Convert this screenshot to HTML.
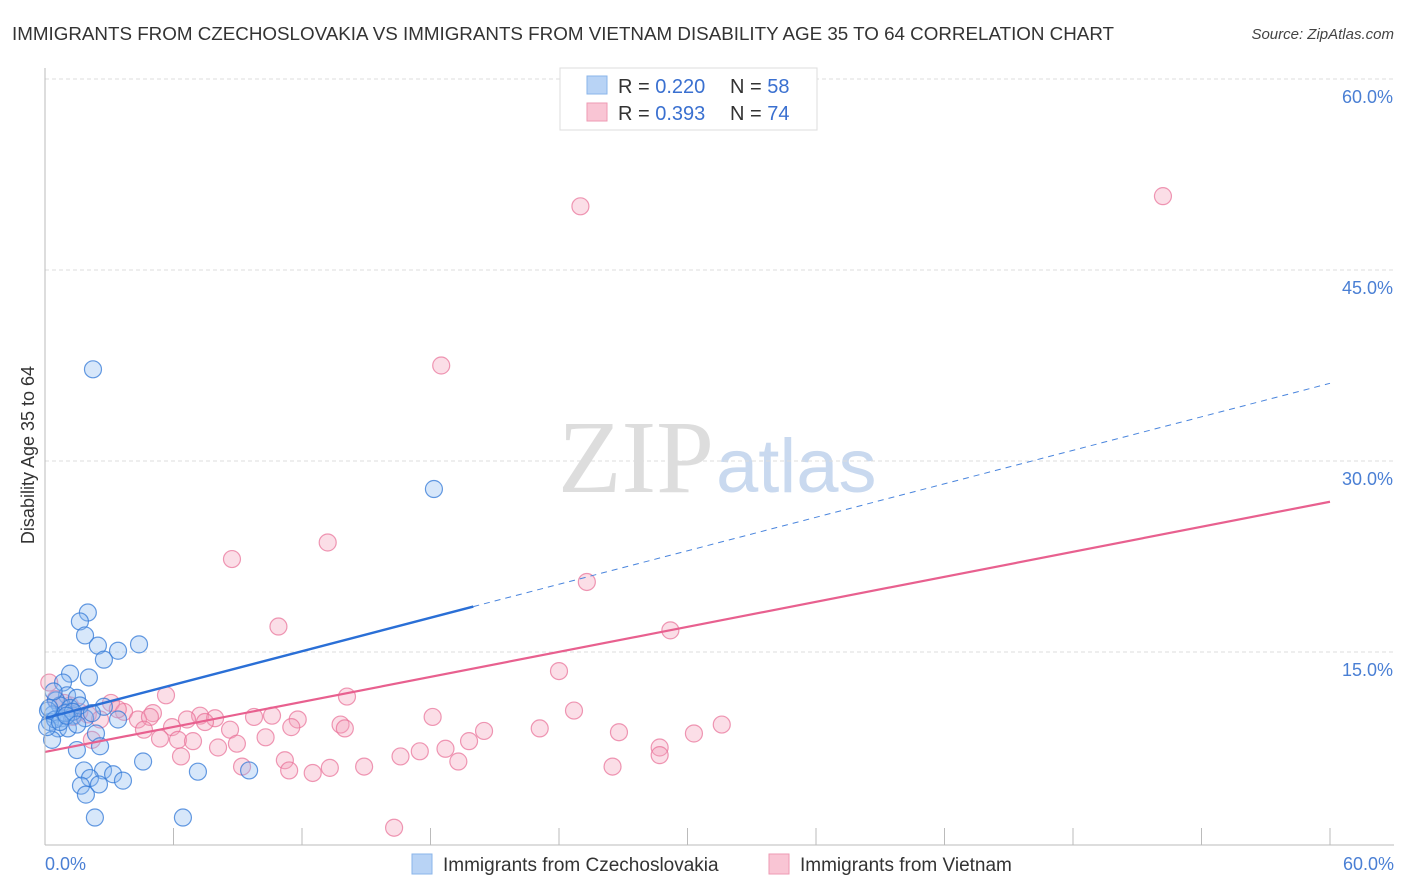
<!DOCTYPE html>
<html><head><meta charset="utf-8">
<style>
body{margin:0;background:#fff;font-family:"Liberation Sans",sans-serif;}
#wrap{position:relative;width:1406px;height:892px;overflow:hidden;}
</style></head>
<body>
<div id="wrap">
<svg id="chart" width="1406" height="892">
  <text x="12" y="40" font-size="18.8" fill="#333">IMMIGRANTS FROM CZECHOSLOVAKIA VS IMMIGRANTS FROM VIETNAM DISABILITY AGE 35 TO 64 CORRELATION CHART</text>
  <text x="1394" y="39" font-size="15" fill="#444" font-style="italic" text-anchor="end">Source: ZipAtlas.com</text>
  <text x="714" y="492" font-size="104" fill="#ddd" font-family="Liberation Serif" text-anchor="end">ZIP</text>
  <text x="716" y="492" font-size="76" fill="#c9d9ef">atlas</text>
  <text x="34" y="455" font-size="18" fill="#333" text-anchor="middle" transform="rotate(-90 34 455)">Disability Age 35 to 64</text>
  <g id="grid"></g><g id="ticks"></g><g id="pts"></g><g id="lines"></g>
  <line x1="45" y1="68" x2="45" y2="845" stroke="#bbb"/>
  <line x1="45" y1="845" x2="1394" y2="845" stroke="#bbb"/>
  <text x="45" y="870" font-size="18" fill="#4a7fd4">0.0%</text>
  <text x="1394" y="870" font-size="18" fill="#4a7fd4" text-anchor="end">60.0%</text>
  <g>
    <rect x="560" y="68" width="257" height="62" fill="#fff" stroke="#ddd"/>
    <rect x="587" y="76" width="20" height="18" fill="#b8d3f5" stroke="#8ab4ea"/>
    <rect x="587" y="103" width="20" height="18" fill="#f9c5d4" stroke="#ee9ab3"/>
    <text x="618" y="93" font-size="20" fill="#333">R = <tspan fill="#3a70d0">0.220</tspan></text>
    <text x="730" y="93" font-size="20" fill="#333">N = <tspan fill="#3a70d0">58</tspan></text>
    <text x="618" y="120" font-size="20" fill="#333">R = <tspan fill="#3a70d0">0.393</tspan></text>
    <text x="730" y="120" font-size="20" fill="#333">N = <tspan fill="#3a70d0">74</tspan></text>
  </g>
  <g>
    <rect x="412" y="854" width="20" height="20" fill="#b8d3f5" stroke="#8ab4ea"/>
    <text x="443" y="871" font-size="19" fill="#333">Immigrants from Czechoslovakia</text>
    <rect x="769" y="854" width="20" height="20" fill="#f9c5d4" stroke="#ee9ab3"/>
    <text x="800" y="871" font-size="19" fill="#333">Immigrants from Vietnam</text>
  </g>
</svg>
</div>
<script>
const yTicks=[15,30,45,60];
const yTickLabels=["15.0%","30.0%","45.0%","60.0%"];
const xTicks=[6,12,18,24,30,36,42,48,54,60];
const blueX=[2.24,18.16,2.0,1.63,1.87,4.39,2.47,3.41,2.75,1.17,2.05,0.84,1.03,1.49,0.51,0.7,1.17,2.75,0.37,0.79,1.31,1.87,3.41,0.23,0.61,1.07,2.38,0.33,2.57,1.49,4.58,1.82,2.71,3.18,7.14,9.53,2.1,3.64,2.52,1.68,1.91,2.33,6.44,0.14,0.47,0.95,1.63,2.19,0.1,0.7,1.3,0.4,0.2,1.0,1.5];
const blueY=[37.2,27.8,18.1,17.4,16.3,15.6,15.5,15.1,14.4,13.3,13.0,12.6,11.6,11.4,11.2,10.8,10.6,10.7,10.1,9.8,10.0,9.8,9.7,9.5,9.0,9.0,8.6,8.1,7.6,7.3,6.4,5.7,5.7,5.4,5.6,5.7,5.1,4.9,4.6,4.5,3.8,2.0,2.0,10.4,9.7,10.2,10.8,10.2,9.1,9.5,10.3,11.9,10.6,10.0,9.3];
const pinkX=[52.2,25.0,18.5,8.73,13.2,25.3,10.9,29.2,24.0,5.65,14.1,3.08,24.7,18.1,5.04,3.69,7.24,7.94,6.63,9.76,10.6,11.8,4.34,4.9,5.93,7.47,8.64,11.5,13.8,14.0,20.5,23.1,26.8,31.6,30.3,4.62,5.37,6.21,6.91,8.96,10.3,8.08,6.35,11.2,18.7,17.5,19.8,28.7,28.7,19.3,16.6,14.9,13.3,12.5,11.4,9.2,26.5,16.3,2.0,2.57,1.17,0.5,1.6,2.19,0.2,0.9,3.4,1.3];
const pinkY=[50.8,50.0,37.5,22.3,23.6,20.5,17.0,16.7,13.5,11.6,11.5,11.0,10.4,9.9,10.2,10.3,10.0,9.8,9.7,9.9,10.0,9.7,9.7,9.9,9.1,9.5,8.9,9.1,9.3,9.0,8.8,9.0,8.7,9.3,8.6,8.9,8.2,8.1,8.0,7.8,8.3,7.5,6.8,6.5,7.4,7.2,8.0,7.5,6.9,6.4,6.8,6.0,5.9,5.5,5.7,6.0,6.0,1.2,10.1,9.7,10.8,11.3,10.3,8.1,12.6,11.0,10.5,9.9];
const blueTrend=[9.8,36.1]; // y at x=0 and x=60
const pinkTrend=[7.15,26.8];
const blueSolidEnd=20.0;
const X=v=>45+v*(1330-45)/60;
const Y=v=>843-v*(843-79)/60;
const NS="http://www.w3.org/2000/svg";
function mk(tag,attrs,parent){const e=document.createElementNS(NS,tag);for(const k in attrs)e.setAttribute(k,attrs[k]);parent.appendChild(e);return e;}
const grid=document.getElementById('grid'),ticks=document.getElementById('ticks'),pts=document.getElementById('pts'),lines=document.getElementById('lines');
yTicks.forEach((t,i)=>{
  const g=mk('line',{x1:45,x2:1394,y1:Y(t),y2:Y(t),stroke:'#ddd','stroke-dasharray':'4,3'},grid);
  
  
  const l=mk('text',{x:1393,y:Y(t)+24,'font-size':18,fill:'#4a7fd4','text-anchor':'end'},ticks);
  l.textContent=yTickLabels[i];
  
  
});
xTicks.forEach(t=>{
  const k=mk('line',{x1:X(t),x2:X(t),y1:828,y2:845,stroke:'#bbb'},ticks);
  
  
});
pinkX.forEach((x,i)=>{
  const c=mk('circle',{cx:X(x),cy:Y(pinkY[i]),r:8.5,fill:'rgba(244,160,185,0.35)',stroke:'rgba(232,110,150,0.7)','stroke-width':1.2},pts);
  
  
});
blueX.forEach((x,i)=>{
  const c=mk('circle',{cx:X(x),cy:Y(blueY[i]),r:8.5,fill:'rgba(140,185,240,0.35)',stroke:'rgba(50,120,215,0.75)','stroke-width':1.2},pts);
  
  
});
const bAt=x=>blueTrend[0]+(blueTrend[1]-blueTrend[0])*x/60;
const pAt=x=>pinkTrend[0]+(pinkTrend[1]-pinkTrend[0])*x/60;
const pl=mk('line',{x1:X(0),y1:Y(pAt(0)),x2:X(60),y2:Y(pAt(60)),stroke:'#e8608f','stroke-width':2.2},lines);


const bl=mk('line',{x1:X(0),y1:Y(bAt(0)),x2:X(blueSolidEnd),y2:Y(bAt(blueSolidEnd)),stroke:'#2a6fd6','stroke-width':2.4},lines);


const bd=mk('line',{x1:X(blueSolidEnd),y1:Y(bAt(blueSolidEnd)),x2:X(60),y2:Y(bAt(60)),stroke:'#4a85dd','stroke-width':1,'stroke-dasharray':'6,5'},lines);


</script>
</body></html>
